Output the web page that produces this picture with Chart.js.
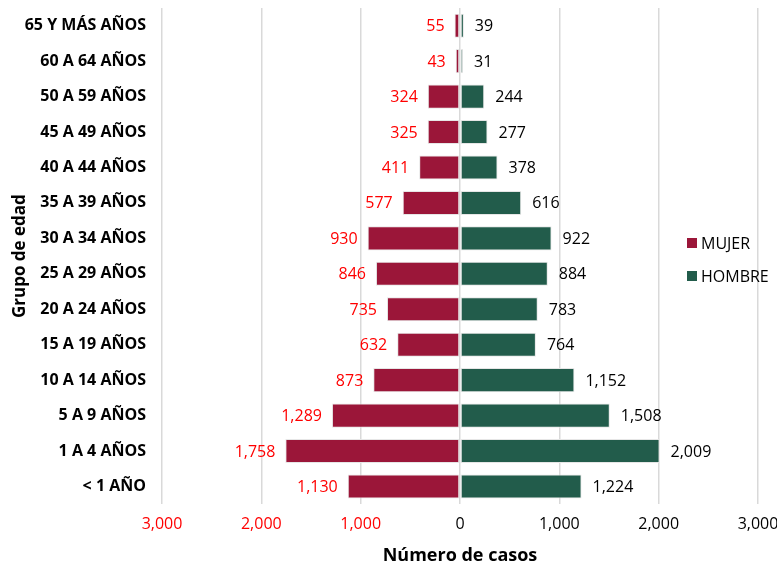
<!DOCTYPE html>
<html>
<head>
<meta charset="utf-8">
<script src="https://cdn.jsdelivr.net/npm/chart.js"></script>
<style>
  html, body { margin: 0; padding: 0; background: #ffffff; }
  #wrap { width: 777px; height: 567px; }
</style>
</head>
<body>
<div id="wrap"><canvas id="piramideChart"></canvas></div>
<script>
// Grupos de edad (de arriba hacia abajo)
const gruposEdad = ['65 Y MÁS AÑOS', '60 A 64 AÑOS', '50 A 59 AÑOS', '45 A 49 AÑOS', '40 A 44 AÑOS',
    '35 A 39 AÑOS', '30 A 34 AÑOS', '25 A 29 AÑOS', '20 A 24 AÑOS', '15 A 19 AÑOS',
    '10 A 14 AÑOS', '5 A 9 AÑOS', '1 A 4 AÑOS', '< 1 AÑO'];
const casosMujer = [55, 43, 324, 325, 411, 577, 930, 846, 735, 632, 873, 1289, 1758, 1130];
const casosHombre = [39, 31, 244, 277, 378, 616, 922, 884, 783, 764, 1152, 1508, 2009, 1224];
const ticksX = [-3000, -2000, -1000, 0, 1000, 2000, 3000];

const ROJO = '#9B1639';
const VERDE = '#225C4B';
const fmt = v => Math.abs(v).toLocaleString('en-US');

// Etiquetas de valor junto a cada barra
const etiquetasPlugin = {
    id: 'etiquetas',
    afterDatasetsDraw(chart) {
        const ctx = chart.ctx;
        ctx.save();
        ctx.font = '16px "Open Sans"';
        ctx.textBaseline = 'middle';
        chart.data.datasets.forEach((ds, i) => {
            const meta = chart.getDatasetMeta(i);
            meta.data.forEach((bar, j) => {
                const v = ds.data[j];
                if (v < 0) {
                    ctx.fillStyle = '#FF0000';
                    ctx.textAlign = 'right';
                    ctx.fillText(fmt(v), bar.x - 10, bar.y + 1);
                } else {
                    ctx.fillStyle = '#000000';
                    ctx.textAlign = 'left';
                    ctx.fillText(fmt(v), bar.x + 11, bar.y + 1);
                }
            });
        });
        ctx.restore();
    }
};

// Leyenda dentro del área del gráfico
const leyendaPlugin = {
    id: 'leyenda',
    afterDraw(chart) {
        const ctx = chart.ctx;
        ctx.save();
        ctx.font = '16px "Open Sans"';
        ctx.textBaseline = 'middle';
        ctx.textAlign = 'left';
        chart.data.datasets.forEach((ds, i) => {
            const y = 243 + i * 33;
            ctx.fillStyle = ds.backgroundColor;
            ctx.fillRect(687, y - 5, 10, 10);
            ctx.fillStyle = '#000000';
            ctx.fillText(ds.label, 701, y + 1);
        });
        ctx.restore();
    }
};

new Chart(document.getElementById('piramideChart').getContext('2d'), {
    type: 'bar',
    data: {
        labels: gruposEdad,
        datasets: [{
            label: 'MUJER',
            data: casosMujer.map(v => -v),
            backgroundColor: ROJO,
            borderColor: '#e6e6e6',
            borderWidth: 1,
            borderSkipped: false,
            barPercentage: 0.68,
            categoryPercentage: 1
        }, {
            label: 'HOMBRE',
            data: casosHombre,
            backgroundColor: VERDE,
            borderColor: '#e6e6e6',
            borderWidth: 1,
            borderSkipped: false,
            barPercentage: 0.68,
            categoryPercentage: 1
        }]
    },
    options: {
        indexAxis: 'y',
        responsive: true,
        maintainAspectRatio: false,
        animation: false,
        layout: { padding: { top: 8, left: 10, right: 19 } },
        plugins: {
            legend: { display: false },
            tooltip: { enabled: false }
        },
        scales: {
            x: {
                stacked: true,
                min: -3000,
                max: 3000,
                afterBuildTicks: axis => { axis.ticks = ticksX.map(v => ({ value: v })); },
                afterFit: axis => { axis.paddingRight = 0; axis.paddingLeft = 0; },
                grid: { color: '#d9d9d9', lineWidth: 1.5, drawTicks: false },
                border: { display: false },
                ticks: {
                    padding: 11,
                    maxRotation: 0,
                    color: ctx => ctx.tick.value < 0 ? '#FF0000' : '#000000',
                    font: { family: 'Open Sans', size: 16 },
                    callback: v => fmt(v)
                },
                title: {
                    display: true,
                    text: 'Número de casos',
                    color: '#000000',
                    font: { family: 'Open Sans', size: 18, weight: 'bold' },
                    padding: { top: 0, bottom: 0 }
                }
            },
            y: {
                stacked: true,
                afterFit: axis => { axis.width = 152; axis.paddingTop = 0; axis.paddingBottom = 0; },
                grid: { display: false, drawTicks: false },
                border: { display: false },
                ticks: {
                    padding: 16,
                    color: '#000000',
                    font: { family: 'Open Sans', size: 16, weight: 'bold' }
                },
                title: {
                    display: true,
                    text: 'Grupo de edad',
                    color: '#000000',
                    font: { family: 'Open Sans', size: 17, weight: 'bold' },
                    padding: { top: 0, bottom: 2 }
                }
            }
        }
    },
    plugins: [etiquetasPlugin, leyendaPlugin]
});
</script>
</body>
</html>
